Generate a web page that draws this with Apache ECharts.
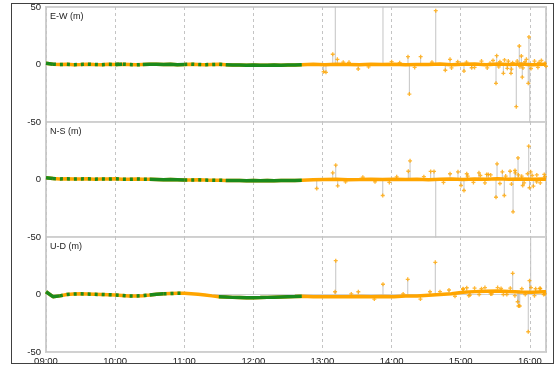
<!DOCTYPE html>
<html>
<head>
<meta charset="utf-8">
<script src="https://cdn.jsdelivr.net/npm/echarts@6/dist/echarts.min.js"></script>
<style>
  html, body { margin: 0; padding: 0; background: #fff; }
  #chart { position: absolute; left: 0; top: 0; width: 560px; height: 369px; }
  #frame { position: absolute; left: 11px; top: 3px; width: 543px; height: 361px;
           border: 1px solid #404040; box-sizing: border-box; pointer-events: none; }
</style>
</head>
<body>
<div id="chart"></div>
<div id="frame"></div>
<script>
// panel titles and axis labels
const panelNames = ['E-W (m)', 'N-S (m)', 'U-D (m)'];
const hourLabels = ['09:00', '10:00', '11:00', '12:00', '13:00', '14:00', '15:00', '16:00'];

// minutes after 09:00, before the switch (green + orange mix)
const earlyTimes = [0, 6, 12, 18, 24, 30, 36, 42, 48, 54, 60, 66, 72, 78, 84, 90, 96, 102, 108,
  114, 120, 126, 132, 138, 144, 150, 156, 162, 168, 174, 180, 186, 192, 198, 204, 210, 216, 222];
const ewEarly = [1, 0.3, 0, 0.2, -0.2, 0, 0.3, 0, -0.2, 0.2, 0, 0.3, 0, -0.3, 0, 0.2, 0.3, 0, 0.2,
  -0.2, 0, 0.3, 0, -0.2, 0, 0.2, -0.3, -0.5, -0.4, -0.6, -0.5, -0.7, -0.6, -0.5, -0.6, -0.4, -0.5, -0.3];
const nsEarly = [1.5, 0.8, 0.5, 0.6, 0.4, 0.5, 0.6, 0.3, 0.5, 0.4, 0.6, 0.3, 0.2, 0.4, 0.3, 0.2, 0, -0.2, -0.1,
  -0.3, -0.5, -0.4, -0.3, -0.5, -0.6, -0.7, -0.8, -0.9, -0.8, -1, -0.9, -1, -0.9, -1, -0.8, -0.9, -0.8, -0.7];
const udEarly = [2.4, -1.9, -1.2, 0, 0.4, 0.6, 0.4, 0.2, 0, -0.2, -0.4, -0.8, -1.2, -1.3, -1, -0.4, 0.3, 0.6, 0.8,
  1, 1, 0.6, 0.2, -0.4, -1.2, -1.9, -2.2, -2.5, -2.6, -2.8, -2.8, -2.7, -2.5, -2.3, -2.1, -1.9, -1.8, -1.6];

// green stretches (minutes): solid, and mixed with orange
const ewGreenSolid = [[0, 6], [60, 66], [84, 102], [108, 120], [156, 222]];
const ewGreenMixed = [[6, 60], [66, 84], [120, 156]];
const nsGreenSolid = [[0, 6], [90, 102], [108, 120], [156, 222]];
const nsGreenMixed = [[6, 90], [120, 156]];
const udGreenSolid = [[0, 12], [90, 102], [150, 222]];
const udGreenMixed = [[12, 90], [102, 120]];

// after 12:42, orange only
const lateTimes = [222, 232, 242, 252, 262, 272, 282, 292, 302, 312, 322, 332, 342, 352, 362,
  372, 382, 392, 402, 412, 422, 432, 434];
const ewLate = [0, 0.3, -0.2, 0.2, 0, -0.3, 0.2, 0, 0.3, -0.2, 0.1, 0, 0.4, -0.3, 0.2, 0.5, -0.3,
  0.4, 0, 0.5, -0.2, 0.3, 0.4];
const nsLate = [-0.5, -0.2, 0, 0.2, -0.2, 0, 0.3, -0.1, 0.2, 0, 0.3, -0.2, 0.2, 0.4, 0, 0.5, 0.2,
  0.6, 0.3, 0.5, 0.2, 0.4, 0.3];
const udLate = [-1.6, -1.9, -1.9, -2, -1.9, -1.7, -1.9, -1.8, -1.9, -1.4, -1.2, -0.6, 0, 0.6, 1.9,
  2.5, 2.8, 3, 2.6, 2.2, 1.9, 2.4, 2.4];

// outliers [minute, value]
const ewSpikes = [[241, -6.3], [243, -6.8], [248.9, 8.9], [251.1, 80], [252.9, 4.5], [263, 1.9],
  [271, -3.9], [292.5, 90], [307, 1.6], [314.2, 6.8], [315.4, -25.7], [325.2, 6.8], [338.3, 46.8],
  [346.6, -5], [350.7, 4.5], [357.4, 2.4], [362.8, -5.7], [369.5, -2.8], [385.4, 1], [390.6, -16.4],
  [391.2, 7.7], [394, 2.4], [397, -7.7], [400.4, -3.3], [401.3, 3], [403.6, -7.7], [405, 1.6],
  [408.2, -36.7], [410.8, 16.1], [411.4, -1.9], [412.6, 7.4], [413.4, -11], [415.8, 2.4],
  [418.6, -16.4], [419.2, 24], [419.9, -60], [428, 1.9], [433.1, 1]];
const nsSpikes = [[235, -7.8], [248.9, 5.8], [251.5, 12.5], [253.2, -5.5], [285.6, -2], [292.3, -13.9],
  [304.4, 2.3], [314.5, 7.2], [316, 16.2], [333.9, 7], [336.8, 7], [338.3, -60], [350.7, 5],
  [357.6, 6.7], [360.2, -5.2], [362.8, -9.6], [365.2, 5], [375.8, 5.8], [382.5, 4.4], [383.9, 4.4],
  [390.6, -15.4], [391.5, 13.6], [396.1, 6.7], [397.8, -13.9], [402.8, 7.2], [405.4, -28.1],
  [407.1, 7.8], [407.4, 5.8], [409.7, 18.8], [412.9, 2.9], [413.8, -5.2], [419, 29], [419.7, -7.2],
  [420.7, 6.7], [423, -5.8], [425.9, -2], [432.5, 4.4]];
const udSpikes = [[250.9, 2.4], [251.5, 29.4], [271.1, 2.4], [292.5, 8.9], [314, 13.2], [333.3, 2.4],
  [337.9, 28], [349.8, 3.9], [362, 4.5], [365.2, 5.9], [368, -0.5], [378, 5], [386, 0.5], [395, 5.2],
  [400, 0], [405.1, 18.4], [409.4, -6.3], [410.1, -10], [411.2, -10], [418.6, -32.4], [419.7, 12],
  [420.7, 60], [425, 5], [428.8, 5.4], [432, 0]];

// loose fixes scattered round the band [minute, value]
const ewNoise = [[258, 2], [280, -2], [300, 2.5], [320, -2.5], [335, 2], [352, -3], [365, 2],
  [372, -2.5], [378, 3], [383, -3], [388, 3.5], [393, -2], [398, 4], [404, -4], [409, 3], [414, -3],
  [417, 4.5], [421, -3.5], [424, 3], [427, -2.5], [430, 3.5], [434, -1.5]];
const nsNoise = [[260, -2], [275, 2], [298, -2.5], [328, 2.5], [345, -2.5], [366, 3], [371, -2.5],
  [377, 3.5], [381, -3], [386, 4], [394, -3.5], [399, 3], [404, -4], [410, 4], [415, -3], [418, 5],
  [422, 3.5], [426, 4], [429, -3], [433, 2.5]];
const udNoise = [[265, 0.5], [285, -4], [310, 0.5], [325, -4], [342, 2.5], [355, -1.5], [362, 5],
  [367, -1], [372, 5.5], [376, 0], [381, 6], [387, 0.5], [392, 6], [397, 0], [403, 5.5], [407, -1],
  [413, 5], [416, 0], [421, 6], [424, -1], [429, 5], [433, 0.5]];

const panels = [
  { early: ewEarly, late: ewLate, solid: ewGreenSolid, mixed: ewGreenMixed, spikes: ewSpikes, noise: ewNoise },
  { early: nsEarly, late: nsLate, solid: nsGreenSolid, mixed: nsGreenMixed, spikes: nsSpikes, noise: nsNoise },
  { early: udEarly, late: udLate, solid: udGreenSolid, mixed: udGreenMixed, spikes: udSpikes, noise: udNoise }
];

const ORANGE = '#ffa500';
const GREEN = '#1b8a1b';
const TRACK = '#c4c4c4';
const tops = [7, 122, 237];
const plus = 'path://M1,0H2V1H3V2H2V3H1V2H0V1H1Z';
const font = 'Liberation Sans';

function inRanges(t, ranges) {
  return ranges.some(r => t >= r[0] && t <= r[1]);
}

function greenData(p, ranges) {
  return earlyTimes.map((t, i) => inRanges(t, ranges) ? [t, p.early[i]] : [t, '-']);
}

// baseline value of the nearest late sample
function nearestBase(p, t) {
  let best = 0;
  lateTimes.forEach((lt, k) => {
    if (Math.abs(lt - t) < Math.abs(lateTimes[best] - t)) best = k;
  });
  return p.late[best];
}

// each outlier hangs off the band as a vertical stroke
function spikeLines(p) {
  const out = [];
  p.spikes.forEach(s => {
    out.push([s[0], nearestBase(p, s[0])], [s[0], s[1]], [s[0], '-']);
  });
  return out;
}

let option = {
  animation: false,
  title: panelNames.map((name, i) => ({
    text: name,
    left: 50,
    top: tops[i] + 5,
    padding: 0,
    textStyle: { fontSize: 9, fontWeight: 'normal', color: '#222', fontFamily: font }
  })),
  grid: tops.map(top => ({
    left: 46, right: 14, top: top, height: 115,
    show: true, borderColor: '#cfcfcf', borderWidth: 2, backgroundColor: 'transparent'
  })),
  xAxis: tops.map((top, i) => ({
    type: 'value',
    gridIndex: i,
    min: 0,
    max: 434,
    interval: 60,
    axisLine: { show: false },
    axisTick: { show: false },
    axisLabel: {
      show: i === 2,
      margin: 4,
      fontSize: 9.5,
      color: '#222',
      fontFamily: font,
      formatter: v => hourLabels[v / 60] || ''
    },
    splitLine: { show: true, lineStyle: { color: '#c4c4c4', type: [3, 3], width: 1 } }
  })),
  yAxis: tops.map((top, i) => ({
    type: 'value',
    gridIndex: i,
    min: -50,
    max: 50,
    interval: 50,
    axisLine: { show: false },
    axisTick: { show: false },
    axisLabel: {
      margin: 5,
      fontSize: 9.5,
      color: '#222',
      fontFamily: font,
      showMaxLabel: i === 0
    },
    splitLine: { show: true, lineStyle: { color: '#d2d2d2', width: 1 } }
  })),
  series: []
};

panels.forEach((p, i) => {
  const base = lateTimes.map((t, k) => [t, p.late[k]]);
  const band = earlyTimes.map((t, k) => [t, p.early[k]]).concat(base.slice(1));
  option.series.push(
    {
      type: 'line', xAxisIndex: i, yAxisIndex: i, data: spikeLines(p), z: 1,
      showSymbol: false, connectNulls: false, lineStyle: { color: TRACK, width: 1 }
    },
    {
      type: 'line', xAxisIndex: i, yAxisIndex: i, data: band, z: 2,
      showSymbol: false, lineStyle: { color: ORANGE, width: 3.5 }
    },
    {
      type: 'line', xAxisIndex: i, yAxisIndex: i, data: greenData(p, p.solid), z: 3,
      showSymbol: false, connectNulls: false, lineStyle: { color: GREEN, width: 3.5 }
    },
    {
      type: 'line', xAxisIndex: i, yAxisIndex: i, data: greenData(p, p.mixed), z: 3,
      showSymbol: false, connectNulls: false,
      lineStyle: { color: GREEN, width: 3.5, type: [3, 4] }
    },
    {
      type: 'scatter', xAxisIndex: i, yAxisIndex: i, data: p.spikes.concat(p.noise), z: 4,
      symbol: plus, symbolSize: 4, itemStyle: { color: ORANGE }
    }
  );
});

// 基于准备好的dom，初始化echarts实例
const chart = echarts.init(document.getElementById('chart'));
chart.setOption(option);
</script>
</body>
</html>
